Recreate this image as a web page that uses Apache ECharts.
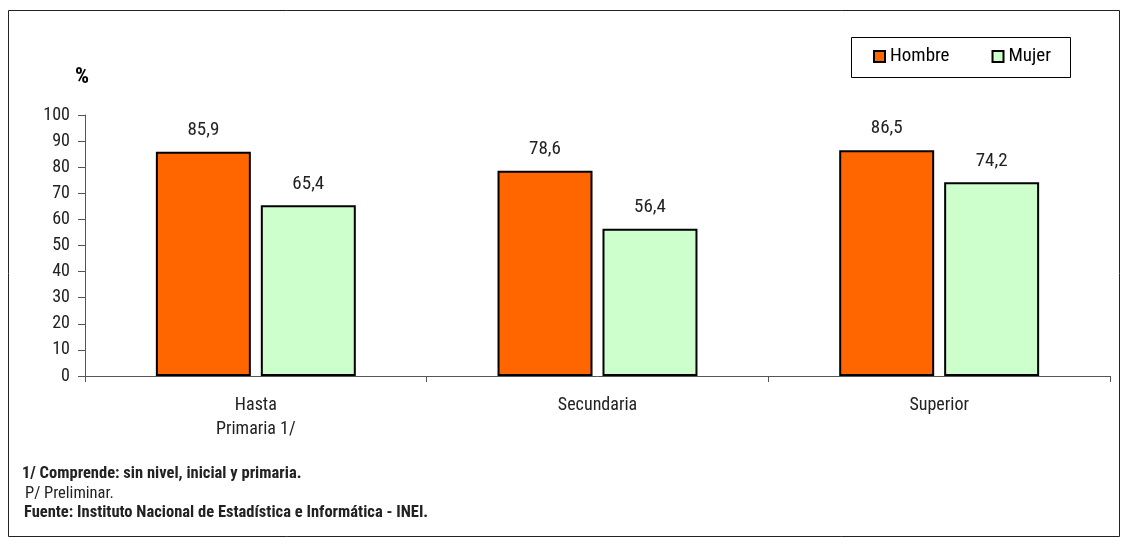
<!DOCTYPE html>
<html><head><meta charset="utf-8">
<script src="https://cdn.jsdelivr.net/npm/echarts@6/dist/echarts.min.js"></script>
<style>html,body{margin:0;padding:0;background:#fff}#c{width:1128px;height:544px}</style>
</head><body><div id="c"></div>
<script>
const categories = ['Hasta\nPrimaria 1/', 'Secundaria', 'Superior'];
const hombre = [85.9, 78.6, 86.5];
const mujer = [65.4, 56.4, 74.2];
const yTicks = [0, 10, 20, 30, 40, 50, 60, 70, 80, 90, 100];
const notes = ['1/ Comprende: sin nivel, inicial y primaria.', 'P/ Preliminar.', 'Fuente: Instituto Nacional de Estadística e Informática - INEI.'];

const FONT = '"Roboto Condensed", "Liberation Sans Narrow", "Arial Narrow", sans-serif';
const chart = echarts.init(document.getElementById('c'), null, {renderer: 'canvas'});
const fmt = p => String(p.value.toFixed(1)).replace('.', ',');
chart.setOption({
  animation: false,
  textStyle: {fontFamily: FONT},
  grid: {left: 85, right: 18, top: 115, bottom: 168, containLabel: false},
  legend: {
    left: 873, top: 47, padding: 0,
    itemGap: 42,
    itemWidth: 11, itemHeight: 11,
    icon: 'rect',
    textStyle: {fontFamily: FONT, fontSize: 19, color: '#000', padding: [0, 0, 0, 0]},
    data: [
      {name: 'Hombre', itemStyle: {borderColor: '#000', borderWidth: 2}},
      {name: 'Mujer', itemStyle: {borderColor: '#000', borderWidth: 2}}
    ]
  },
  xAxis: {
    type: 'category', data: categories,
    axisLine: {lineStyle: {color: '#555', width: 1}},
    axisTick: {show: true, alignWithLabel: false, length: 6, lineStyle: {color: '#555'}},
    axisLabel: {fontFamily: FONT, fontSize: 18, color: '#222', lineHeight: 24, margin: 17}
  },
  yAxis: {
    type: 'value', min: yTicks[0], max: yTicks[yTicks.length - 1], interval: 10,
    name: '%', nameLocation: 'end', nameGap: 27,
    nameTextStyle: {fontFamily: FONT, fontSize: 22, fontWeight: 'bold', color: '#000', align: 'right', padding: [0, -4, 0, 0]},
    axisLine: {show: true, lineStyle: {color: '#555'}},
    axisTick: {show: true, length: 7, lineStyle: {color: '#555'}},
    splitLine: {show: false},
    axisLabel: {fontFamily: FONT, fontSize: 18, color: '#222', margin: 15}
  },
  series: [
    {name: 'Hombre', type: 'bar', data: hombre, barWidth: '27.8%', barGap: '10.5%',
      itemStyle: {color: '#ff6600', borderColor: '#000', borderWidth: 2},
      label: {show: true, position: 'top', distance: 12, formatter: fmt, fontFamily: FONT, fontSize: 19, color: '#222'}},
    {name: 'Mujer', type: 'bar', data: mujer, barWidth: '27.8%',
      itemStyle: {color: '#ccffcc', borderColor: '#000', borderWidth: 2},
      label: {show: true, position: 'top', distance: 12, formatter: fmt, fontFamily: FONT, fontSize: 19, color: '#222'}}
  ],
  graphic: [
    {type: 'rect', shape: {x: 8.5, y: 10.5, width: 1111, height: 526}, style: {fill: 'none', stroke: '#222', lineWidth: 1}, silent: true},
    {type: 'rect', shape: {x: 851.5, y: 37.5, width: 219, height: 40}, style: {fill: 'none', stroke: '#000', lineWidth: 1}, silent: true},
    {type: 'text', left: 22, top: 465, style: {text: notes[0], font: 'bold 16.5px ' + FONT, fill: '#222'}},
    {type: 'text', left: 25, top: 485, style: {text: notes[1], font: '16.5px ' + FONT, fill: '#222'}},
    {type: 'text', left: 24, top: 504, style: {text: notes[2], font: 'bold 16.5px ' + FONT, fill: '#222'}}
  ]
});
</script></body></html>
